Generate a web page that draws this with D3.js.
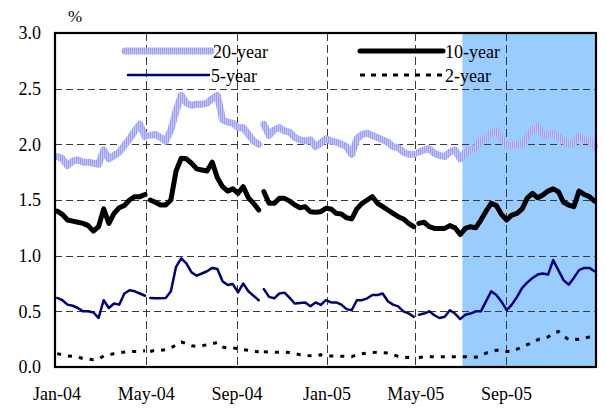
<!DOCTYPE html>
<html>
<head>
<meta charset="utf-8">
<script src="https://cdn.jsdelivr.net/npm/d3@7"></script>
<style>
  html, body { margin: 0; padding: 0; background: #fff; }
  svg { display: block; }
  text { font-family: "Liberation Serif", "Times New Roman", serif; fill: #000; }
</style>
</head>
<body>
<svg id="chart" width="606" height="410"></svg>
<script>
// Weekly observations (Fridays), starting 2 Jan 2004
const startDate = "2004-01-02";
// dates with no quotes (breaks in the lines)
const gapDates = ["2004-05-03", "2004-10-05", "2005-05-02"];

const yield20 = [
  1.89, 1.87, 1.81, 1.85, 1.86, 1.84, 1.84, 1.83, 1.82, 1.95,
  1.87, 1.90, 1.93, 1.99, 2.05, 2.12, 2.18, 2.07, 2.08, 2.09,
  2.06, 2.03, 2.13, 2.30, 2.44, 2.37, 2.35, 2.36, 2.36, 2.37,
  2.41, 2.44, 2.22, 2.20, 2.19, 2.15, 2.15, 2.09, 2.03, 2.00,
  2.18, 2.08, 2.13, 2.15, 2.12, 2.11, 2.06, 2.04, 2.03, 2.04,
  1.98, 2.01, 2.05, 2.03, 2.02, 2.00, 1.98, 1.91, 2.05, 2.09,
  2.10, 2.08, 2.06, 2.04, 2.02, 1.98, 1.97, 1.93, 1.91, 1.91,
  1.93, 1.95, 1.96, 1.92, 1.90, 1.89, 1.93, 1.95, 1.87, 1.93,
  1.95, 1.97, 2.03, 2.05, 2.10, 2.12, 2.05, 1.99, 1.99, 2.00,
  2.00, 2.07, 2.13, 2.16, 2.08, 2.09, 2.10, 2.07, 2.03, 2.00,
  2.01, 2.07, 2.04, 2.03, 1.98
];

const yield10 = [
  1.40, 1.37, 1.32, 1.31, 1.30, 1.29, 1.27, 1.22, 1.26, 1.42,
  1.29, 1.38, 1.43, 1.45, 1.50, 1.53, 1.53, 1.55, 1.50, 1.48,
  1.455, 1.455, 1.50, 1.76, 1.875, 1.87, 1.83, 1.78, 1.77, 1.76,
  1.84, 1.70, 1.62, 1.58, 1.60, 1.56, 1.62, 1.52, 1.47, 1.41,
  1.575, 1.47, 1.47, 1.515, 1.515, 1.49, 1.455, 1.43, 1.44, 1.395,
  1.39, 1.395, 1.425, 1.42, 1.38, 1.375, 1.34, 1.33, 1.42, 1.47,
  1.50, 1.53, 1.47, 1.44, 1.41, 1.38, 1.35, 1.33, 1.29, 1.26,
  1.29, 1.30, 1.26, 1.245, 1.245, 1.245, 1.27, 1.25, 1.19, 1.245,
  1.26, 1.25, 1.32, 1.40, 1.47, 1.45, 1.37, 1.32, 1.365, 1.38,
  1.42, 1.52, 1.56, 1.52, 1.545, 1.58, 1.60, 1.575, 1.48, 1.455,
  1.44, 1.58, 1.55, 1.53, 1.49
];

const yield5 = [
  0.62, 0.60, 0.56, 0.55, 0.53, 0.50, 0.50, 0.49, 0.44, 0.60,
  0.53, 0.57, 0.56, 0.66, 0.69, 0.68, 0.66, 0.64, 0.62, 0.617,
  0.617, 0.62, 0.68, 0.90, 0.976, 0.93, 0.85, 0.82, 0.84, 0.86,
  0.89, 0.88, 0.77, 0.737, 0.745, 0.67, 0.75, 0.68, 0.64, 0.60,
  0.70, 0.63, 0.617, 0.66, 0.668, 0.62, 0.57, 0.575, 0.58, 0.545,
  0.58, 0.557, 0.60, 0.58, 0.58, 0.56, 0.52, 0.51, 0.60, 0.60,
  0.617, 0.647, 0.647, 0.66, 0.59, 0.56, 0.545, 0.50, 0.482, 0.45,
  0.47, 0.48, 0.50, 0.465, 0.44, 0.452, 0.51, 0.48, 0.43, 0.47,
  0.48, 0.50, 0.50, 0.59, 0.68, 0.647, 0.587, 0.51, 0.56, 0.63,
  0.71, 0.76, 0.80, 0.83, 0.84, 0.83, 0.96, 0.87, 0.78, 0.74,
  0.80, 0.87, 0.89, 0.89, 0.86
];

const yield2 = [
  0.12, 0.11, 0.10, 0.095, 0.09, 0.075, 0.07, 0.065, 0.07, 0.10,
  0.11, 0.12, 0.125, 0.135, 0.14, 0.14, 0.14, 0.145, 0.14, 0.15,
  0.15, 0.155, 0.17, 0.20, 0.225, 0.21, 0.19, 0.185, 0.19, 0.20,
  0.21, 0.22, 0.18, 0.17, 0.17, 0.165, 0.155, 0.15, 0.14, 0.138,
  0.136, 0.135, 0.133, 0.132, 0.132, 0.13, 0.12, 0.11, 0.108, 0.10,
  0.10, 0.11, 0.10, 0.098, 0.098, 0.097, 0.095, 0.093, 0.11, 0.12,
  0.125, 0.13, 0.132, 0.13, 0.125, 0.11, 0.095, 0.09, 0.085, 0.08,
  0.085, 0.09, 0.093, 0.093, 0.093, 0.093, 0.093, 0.093, 0.093, 0.092,
  0.09, 0.088, 0.10, 0.125, 0.14, 0.15, 0.15, 0.14, 0.14, 0.16,
  0.18, 0.20, 0.22, 0.245, 0.26, 0.27, 0.30, 0.32, 0.28, 0.245,
  0.245, 0.25, 0.26, 0.27, 0.29
];

const xTickDates = ["2004-01-01", "2004-05-01", "2004-09-01", "2005-01-01", "2005-05-01", "2005-09-01"];
const xTickLabels = ["Jan-04", "May-04", "Sep-04", "Jan-05", "May-05", "Sep-05"];
const yTicks = [0.0, 0.5, 1.0, 1.5, 2.0, 2.5, 3.0];
const xDomain = ["2003-12-30", "2006-01-01"];
const shadeStart = "2005-07-04";

const parse = d3.utcParse("%Y-%m-%d");
const start = parse(startDate);
const dates = yield20.map((_, i) => d3.utcDay.offset(start, 7 * i));
const gaps = gapDates.map(parse);

const svg = d3.select("#chart");
const M = { left: 55, right: 596, top: 33, bottom: 367 };

const x = d3.scaleUtc().domain(xDomain.map(parse)).range([M.left, M.right]);
const y = d3.scaleLinear().domain([0, 3]).range([M.bottom, M.top]);

// striped lavender paint for the 20-year band
const defs = svg.append("defs");
const pat = defs.append("pattern")
  .attr("id", "stripe20").attr("patternUnits", "userSpaceOnUse")
  .attr("width", 2).attr("height", 4);
pat.append("rect").attr("width", 2).attr("height", 4).attr("fill", "#c3c6fb");
pat.append("rect").attr("width", 1).attr("height", 4).attr("fill", "#9c9ff5");

// shaded period
svg.append("rect")
  .attr("x", x(parse(shadeStart)))
  .attr("y", M.top)
  .attr("width", M.right - x(parse(shadeStart)))
  .attr("height", M.bottom - M.top)
  .attr("fill", "#99ccff");

// dashed grid
const grid = svg.append("g").attr("stroke", "#3a3a3a").attr("stroke-width", 1).attr("fill", "none");
grid.selectAll("line.h").data(yTicks.filter(v => v > 0 && v < 3)).join("line")
  .attr("x1", M.left).attr("x2", M.right)
  .attr("y1", d => Math.round(y(d)) + 0.5).attr("y2", d => Math.round(y(d)) + 0.5)
  .attr("stroke-dasharray", "7,4");
grid.selectAll("line.v").data(xTickDates.slice(1)).join("line")
  .attr("x1", d => Math.round(x(parse(d))) + 0.5).attr("x2", d => Math.round(x(parse(d))) + 0.5)
  .attr("y1", M.top).attr("y2", M.bottom)
  .attr("stroke-dasharray", "8,4");

// series
const series = [
  { name: "20-year", values: yield20, stroke: "url(#stripe20)", width: 7, dash: null },
  { name: "10-year", values: yield10, stroke: "#000", width: 5, dash: null },
  { name: "5-year", values: yield5, stroke: "#000080", width: 2.5, dash: null },
  { name: "2-year", values: yield2, stroke: "#000", width: 3, dash: "4,7" }
];

function points(values) {
  const pts = dates.map((dt, i) => [dt, values[i]]);
  gaps.forEach(g => pts.push([g, null]));
  return pts.sort((a, b) => a[0] - b[0]);
}

const line = d3.line()
  .defined(d => d[1] != null)
  .x(d => x(d[0]))
  .y(d => y(d[1]));

svg.append("g").selectAll("path").data(series).join("path")
  .attr("d", s => line(points(s.values)))
  .attr("fill", "none")
  .attr("stroke", s => s.stroke)
  .attr("stroke-width", s => s.width)
  .attr("stroke-linejoin", "round")
  .attr("stroke-linecap", s => s.dash ? "butt" : "round")
  .attr("stroke-dasharray", s => s.dash);

// frame
svg.append("rect")
  .attr("x", M.left).attr("y", M.top)
  .attr("width", M.right - M.left).attr("height", M.bottom - M.top)
  .attr("fill", "none").attr("stroke", "#000").attr("stroke-width", 2.2);

// y axis labels
const yAxis = d3.axisLeft(y).tickValues(yTicks).tickFormat(d3.format(".1f")).tickSize(0).tickPadding(14);
const gy = svg.append("g").attr("transform", `translate(${M.left},0)`).call(yAxis);
gy.select(".domain").remove();
gy.selectAll("text").style("font-family", '"Liberation Serif", serif').style("font-size", "18px").attr("fill", "#000");

// x axis labels
const xAxis = d3.axisBottom(x).tickValues(xTickDates.map(parse))
  .tickFormat((d, i) => xTickLabels[i]).tickSize(0).tickPadding(20);
const gx = svg.append("g").attr("transform", `translate(0,${M.bottom})`).call(xAxis);
gx.select(".domain").remove();
gx.selectAll("text").style("font-family", '"Liberation Serif", serif').style("font-size", "18px").attr("fill", "#000");

// unit
svg.append("text").attr("x", 68).attr("y", 22).style("font-size", "17px").text("%");

// legend
const legendItems = [
  { s: series[0], x1: 125, x2: 211, y: 51 },
  { s: series[2], x1: 128, x2: 209, y: 75 },
  { s: series[1], x1: 360, x2: 443, y: 51 },
  { s: series[3], x1: 360, x2: 443, y: 75 }
];
const lg = svg.append("g");
legendItems.forEach(it => {
  lg.append("line")
    .attr("x1", it.x1).attr("x2", it.x2).attr("y1", it.y).attr("y2", it.y)
    .attr("stroke", it.s.stroke).attr("stroke-width", it.s.width)
    .attr("stroke-linecap", it.s.dash ? "butt" : "round")
    .attr("stroke-dasharray", it.s.dash ? "5,6" : null);
  lg.append("text").attr("x", it.x2 + 2).attr("y", it.y + 7)
    .style("font-size", "18px").text(it.s.name);
});
</script>
</body>
</html>
